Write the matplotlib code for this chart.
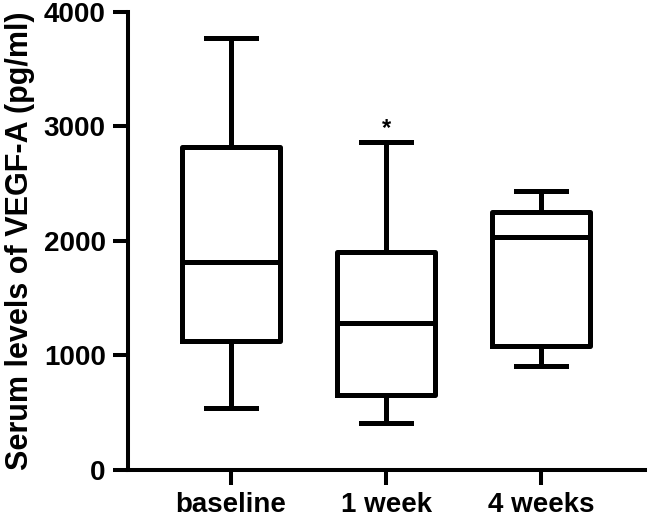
import matplotlib
matplotlib.use("Agg")
import matplotlib.pyplot as plt

plt.rcParams['font.family'] = ['Liberation Sans', 'DejaVu Sans']
plt.rcParams['font.weight'] = 'bold'

# groups and box statistics (pg/ml)
groups = ["baseline", "1 week", "4 weeks"]
whislo = [540, 410, 908]
q1 = [1124, 652, 1083]
med = [1817, 1284, 2035]
q3 = [2821, 1904, 2253]
whishi = [3768, 2865, 2434]
yticks = [0, 1000, 2000, 3000, 4000]

stats = []
for i in range(len(groups)):
    stats.append(dict(label=groups[i], whislo=whislo[i], q1=q1[i], med=med[i],
                      q3=q3[i], whishi=whishi[i], fliers=[]))

fig = plt.figure(figsize=(6.48, 5.19), dpi=100)
ax = fig.add_axes([0.1975, 0.095, 0.798, 0.8825])

lw = 3.6
ax.bxp(stats, positions=[0, 1, 2], widths=0.63, capwidths=0.32,
       showfliers=False, patch_artist=False,
       boxprops=dict(color='black', linewidth=lw),
       medianprops=dict(color='black', linewidth=lw),
       whiskerprops=dict(color='black', linewidth=lw),
       capprops=dict(color='black', linewidth=lw))

# significance mark above 1 week
ax.text(1, whishi[1] + 10, "*", ha='center', va='bottom', fontsize=17, fontweight='bold')

ax.set_xlim(-0.665, 2.67)
ax.set_ylim(0, 4000)
ax.set_yticks(yticks)
ax.set_xticks([0, 1, 2])
ax.set_xticklabels(groups)

for s in ['top', 'right']:
    ax.spines[s].set_visible(False)
for s in ['left', 'bottom']:
    ax.spines[s].set_linewidth(2.9)

ax.tick_params(axis='both', width=2.9, length=11, labelsize=20, pad=5)
ax.set_ylabel("Serum levels of VEGF-A (pg/ml)", fontsize=22, fontweight='bold', labelpad=6)

fig.savefig("out.png", dpi=100)
